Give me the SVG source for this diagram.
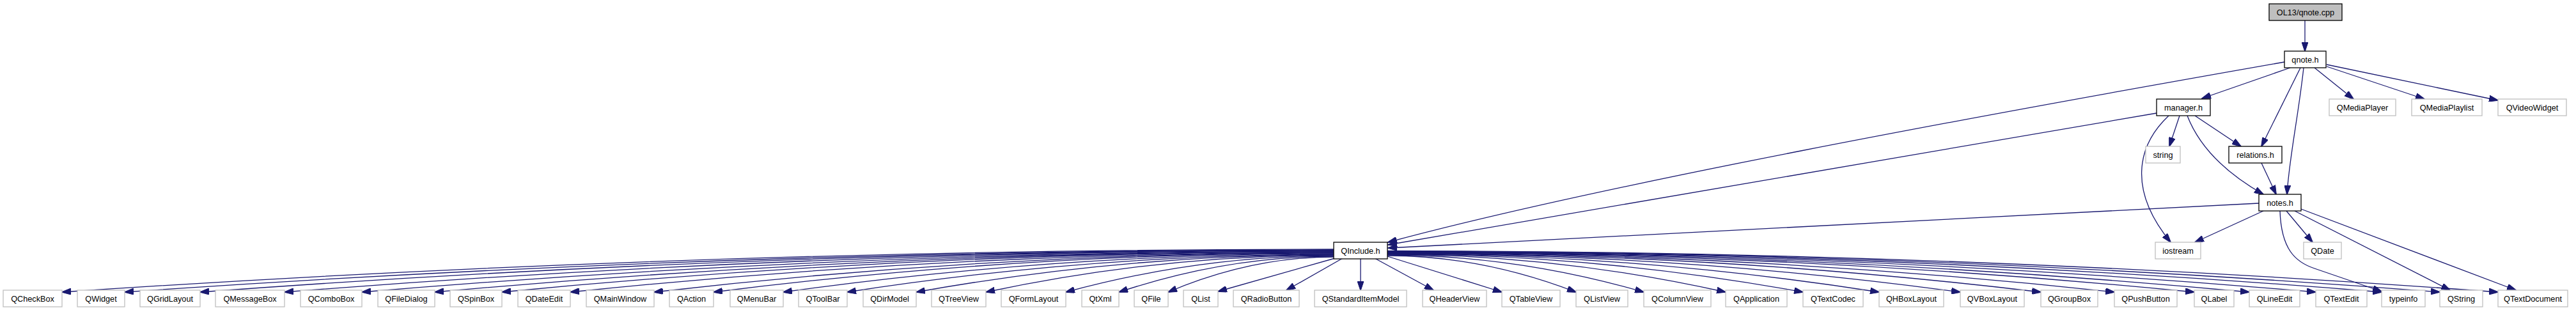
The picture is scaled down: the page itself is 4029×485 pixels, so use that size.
<svg xmlns="http://www.w3.org/2000/svg" width="4029" height="485" viewBox="0 0 4029 485">
<defs>
<marker id="ah" markerWidth="15" markerHeight="10" refX="14" refY="5" orient="auto" markerUnits="userSpaceOnUse"><path d="M0,0 L15,5 L0,10 z" fill="#191970" stroke="#191970" stroke-width="1"/></marker>
<style>
rect{stroke-width:1.3}
.n rect{fill:#fff;stroke:#000}
.x rect{fill:#fff;stroke:#bfbfbf}
.r rect{fill:#bfbfbf;stroke:#000}
text{font-family:"Liberation Sans",Arial,sans-serif;font-size:12.7px;text-anchor:middle;fill:#000}
#edges path{fill:none;stroke:#191970;stroke-width:1.3;marker-end:url(#ah)}
</style>
</defs>
<rect width="4029" height="485" fill="#fff"/>
<g id="edges">
<path d="M3605,32 L3605,80"/>
<path d="M3573,97 C3100,180 2500,290 2171,379"/>
<path d="M3373,177 L2171,383"/>
<path d="M3533,318 L2171,388"/>
<path d="M3582,106 L3444,154"/>
<path d="M3598,106 L3537,229"/>
<path d="M3603,106 C3595,180 3580,250 3577,304"/>
<path d="M3620,106 L3681,155"/>
<path d="M3639,104 L3792,155"/>
<path d="M3639,101 L3907,157"/>
<path d="M3409,181 L3393,229"/>
<path d="M3433,181 L3505,229"/>
<path d="M3421,181 C3440,230 3480,270 3540,304"/>
<path d="M3392,181 C3340,230 3330,300 3395,379"/>
<path d="M3537,255 L3560,304"/>
<path d="M3540,330 L3433,379"/>
<path d="M3576,330 L3617,379"/>
<path d="M3566,330 C3568,390 3590,410 3620,420 L3725,456"/>
<path d="M3589,330 L3832,454"/>
<path d="M3599,327 L3935,454"/>
<path d="M2086,390 Q1091.5,390 97,457"/>
<path d="M2086,391 Q1140.5,391 195,457"/>
<path d="M2086,391.5 Q1199.5,391.5 313,457"/>
<path d="M2086,392 Q1265.5,392 445,457"/>
<path d="M2086,393 Q1326,393 566,457"/>
<path d="M2086,393.5 Q1383,393.5 680,457"/>
<path d="M2086,394 Q1435.5,394 785,457"/>
<path d="M2086,395 Q1489,395 892,457"/>
<path d="M2086,395.5 Q1554.5,395.5 1023,457"/>
<path d="M2086,396 Q1601,396 1116,457"/>
<path d="M2086,397 Q1655.5,397 1225,457"/>
<path d="M2086,398 Q1705.5,398 1325,457"/>
<path d="M2086,398.5 Q1759.5,398.5 1433,457"/>
<path d="M2086,399 Q1814,399 1542,457"/>
<path d="M2086,400 Q1876.5,400 1667,457"/>
<path d="M2086,401 Q1918,401 1750,457"/>
<path d="M2086,402 Q1956.5,402 1827,457"/>
<path d="M2088,404 L1905,456"/>
<path d="M2100,404 L2012,454"/>
<path d="M2128,404 L2128,454"/>
<path d="M2150,404 L2242,454"/>
<path d="M2170,401 L2349,457"/>
<path d="M2170,400 Q2317,400 2465,457"/>
<path d="M2170,399 Q2370,399 2571,457"/>
<path d="M2170,398 Q2434,398 2699,457"/>
<path d="M2170,397.5 Q2495,397.5 2820,457"/>
<path d="M2170,397 Q2554,397 2939,457"/>
<path d="M2170,396.5 Q2618,396.5 3066,457"/>
<path d="M2170,396 Q2681,396 3192,457"/>
<path d="M2170,395.5 Q2738,395.5 3307,457"/>
<path d="M2170,395 Q2801,395 3432,457"/>
<path d="M2170,394.5 Q2844,394.5 3518,457"/>
<path d="M2170,394 Q2896,394 3622,457"/>
<path d="M2170,393.5 Q2947,393.5 3725,457"/>
<path d="M2170,393 Q2993,393 3816,457"/>
<path d="M2170,392.5 Q3038,392.5 3907,457"/>
</g>
<g id="qnote_cpp" class="r"><rect x="3549" y="6" width="114" height="26"/><text x="3606" y="23.5">OL13/qnote.cpp</text></g>
<g id="qnote_h" class="n"><rect x="3573" y="80" width="65" height="26"/><text x="3605.5" y="97.5">qnote.h</text></g>
<g id="manager_h" class="n"><rect x="3373" y="155" width="84" height="26"/><text x="3415" y="172.5">manager.h</text></g>
<g id="QMediaPlayer" class="x"><rect x="3643" y="155" width="104" height="26"/><text x="3695" y="172.5">QMediaPlayer</text></g>
<g id="QMediaPlaylist" class="x"><rect x="3772" y="155" width="110" height="26"/><text x="3827" y="172.5">QMediaPlaylist</text></g>
<g id="QVideoWidget" class="x"><rect x="3907" y="155" width="107" height="26"/><text x="3960.5" y="172.5">QVideoWidget</text></g>
<g id="string" class="x"><rect x="3356" y="229" width="54" height="26"/><text x="3383" y="246.5">string</text></g>
<g id="relations_h" class="n"><rect x="3486" y="229" width="83" height="26"/><text x="3527.5" y="246.5">relations.h</text></g>
<g id="notes_h" class="n"><rect x="3533" y="304" width="66" height="26"/><text x="3566" y="321.5">notes.h</text></g>
<g id="QInclude_h" class="n"><rect x="2086" y="379" width="84" height="26"/><text x="2128" y="396.5">QInclude.h</text></g>
<g id="iostream" class="x"><rect x="3371" y="379" width="71" height="26"/><text x="3406.5" y="396.5">iostream</text></g>
<g id="QDate" class="x"><rect x="3603" y="379" width="59" height="26"/><text x="3632.5" y="396.5">QDate</text></g>
<g id="QCheckBox" class="x"><rect x="5" y="454" width="92" height="26"/><text x="51" y="471.5">QCheckBox</text></g>
<g id="QWidget" class="x"><rect x="121" y="454" width="74" height="26"/><text x="158" y="471.5">QWidget</text></g>
<g id="QGridLayout" class="x"><rect x="219" y="454" width="94" height="26"/><text x="266" y="471.5">QGridLayout</text></g>
<g id="QMessageBox" class="x"><rect x="337" y="454" width="108" height="26"/><text x="391" y="471.5">QMessageBox</text></g>
<g id="QComboBox" class="x"><rect x="470" y="454" width="96" height="26"/><text x="518" y="471.5">QComboBox</text></g>
<g id="QFileDialog" class="x"><rect x="591" y="454" width="89" height="26"/><text x="635.5" y="471.5">QFileDialog</text></g>
<g id="QSpinBox" class="x"><rect x="704" y="454" width="81" height="26"/><text x="744.5" y="471.5">QSpinBox</text></g>
<g id="QDateEdit" class="x"><rect x="810" y="454" width="82" height="26"/><text x="851" y="471.5">QDateEdit</text></g>
<g id="QMainWindow" class="x"><rect x="917" y="454" width="106" height="26"/><text x="970" y="471.5">QMainWindow</text></g>
<g id="QAction" class="x"><rect x="1047" y="454" width="69" height="26"/><text x="1081.5" y="471.5">QAction</text></g>
<g id="QMenuBar" class="x"><rect x="1142" y="454" width="83" height="26"/><text x="1183.5" y="471.5">QMenuBar</text></g>
<g id="QToolBar" class="x"><rect x="1249" y="454" width="76" height="26"/><text x="1287" y="471.5">QToolBar</text></g>
<g id="QDirModel" class="x"><rect x="1350" y="454" width="83" height="26"/><text x="1391.5" y="471.5">QDirModel</text></g>
<g id="QTreeView" class="x"><rect x="1457" y="454" width="85" height="26"/><text x="1499.5" y="471.5">QTreeView</text></g>
<g id="QFormLayout" class="x"><rect x="1566" y="454" width="101" height="26"/><text x="1616.5" y="471.5">QFormLayout</text></g>
<g id="QtXml" class="x"><rect x="1692" y="454" width="58" height="26"/><text x="1721" y="471.5">QtXml</text></g>
<g id="QFile" class="x"><rect x="1774" y="454" width="53" height="26"/><text x="1800.5" y="471.5">QFile</text></g>
<g id="QList" class="x"><rect x="1851" y="454" width="54" height="26"/><text x="1878" y="471.5">QList</text></g>
<g id="QRadioButton" class="x"><rect x="1929" y="454" width="103" height="26"/><text x="1980.5" y="471.5">QRadioButton</text></g>
<g id="QStandardItemModel" class="x"><rect x="2056" y="454" width="144" height="26"/><text x="2128" y="471.5">QStandardItemModel</text></g>
<g id="QHeaderView" class="x"><rect x="2225" y="454" width="100" height="26"/><text x="2275" y="471.5">QHeaderView</text></g>
<g id="QTableView" class="x"><rect x="2349" y="454" width="91" height="26"/><text x="2394.5" y="471.5">QTableView</text></g>
<g id="QListView" class="x"><rect x="2465" y="454" width="81" height="26"/><text x="2505.5" y="471.5">QListView</text></g>
<g id="QColumnView" class="x"><rect x="2571" y="454" width="105" height="26"/><text x="2623.5" y="471.5">QColumnView</text></g>
<g id="QApplication" class="x"><rect x="2699" y="454" width="96" height="26"/><text x="2747" y="471.5">QApplication</text></g>
<g id="QTextCodec" class="x"><rect x="2820" y="454" width="94" height="26"/><text x="2867" y="471.5">QTextCodec</text></g>
<g id="QHBoxLayout" class="x"><rect x="2939" y="454" width="101" height="26"/><text x="2989.5" y="471.5">QHBoxLayout</text></g>
<g id="QVBoxLayout" class="x"><rect x="3066" y="454" width="100" height="26"/><text x="3116" y="471.5">QVBoxLayout</text></g>
<g id="QGroupBox" class="x"><rect x="3192" y="454" width="89" height="26"/><text x="3236.5" y="471.5">QGroupBox</text></g>
<g id="QPushButton" class="x"><rect x="3307" y="454" width="98" height="26"/><text x="3356" y="471.5">QPushButton</text></g>
<g id="QLabel" class="x"><rect x="3432" y="454" width="62" height="26"/><text x="3463" y="471.5">QLabel</text></g>
<g id="QLineEdit" class="x"><rect x="3518" y="454" width="79" height="26"/><text x="3557.5" y="471.5">QLineEdit</text></g>
<g id="QTextEdit" class="x"><rect x="3622" y="454" width="80" height="26"/><text x="3662" y="471.5">QTextEdit</text></g>
<g id="typeinfo" class="x"><rect x="3725" y="454" width="68" height="26"/><text x="3759" y="471.5">typeinfo</text></g>
<g id="QString" class="x"><rect x="3816" y="454" width="67" height="26"/><text x="3849.5" y="471.5">QString</text></g>
<g id="QTextDocument" class="x"><rect x="3907" y="454" width="109" height="26"/><text x="3961.5" y="471.5">QTextDocument</text></g>
</svg>
